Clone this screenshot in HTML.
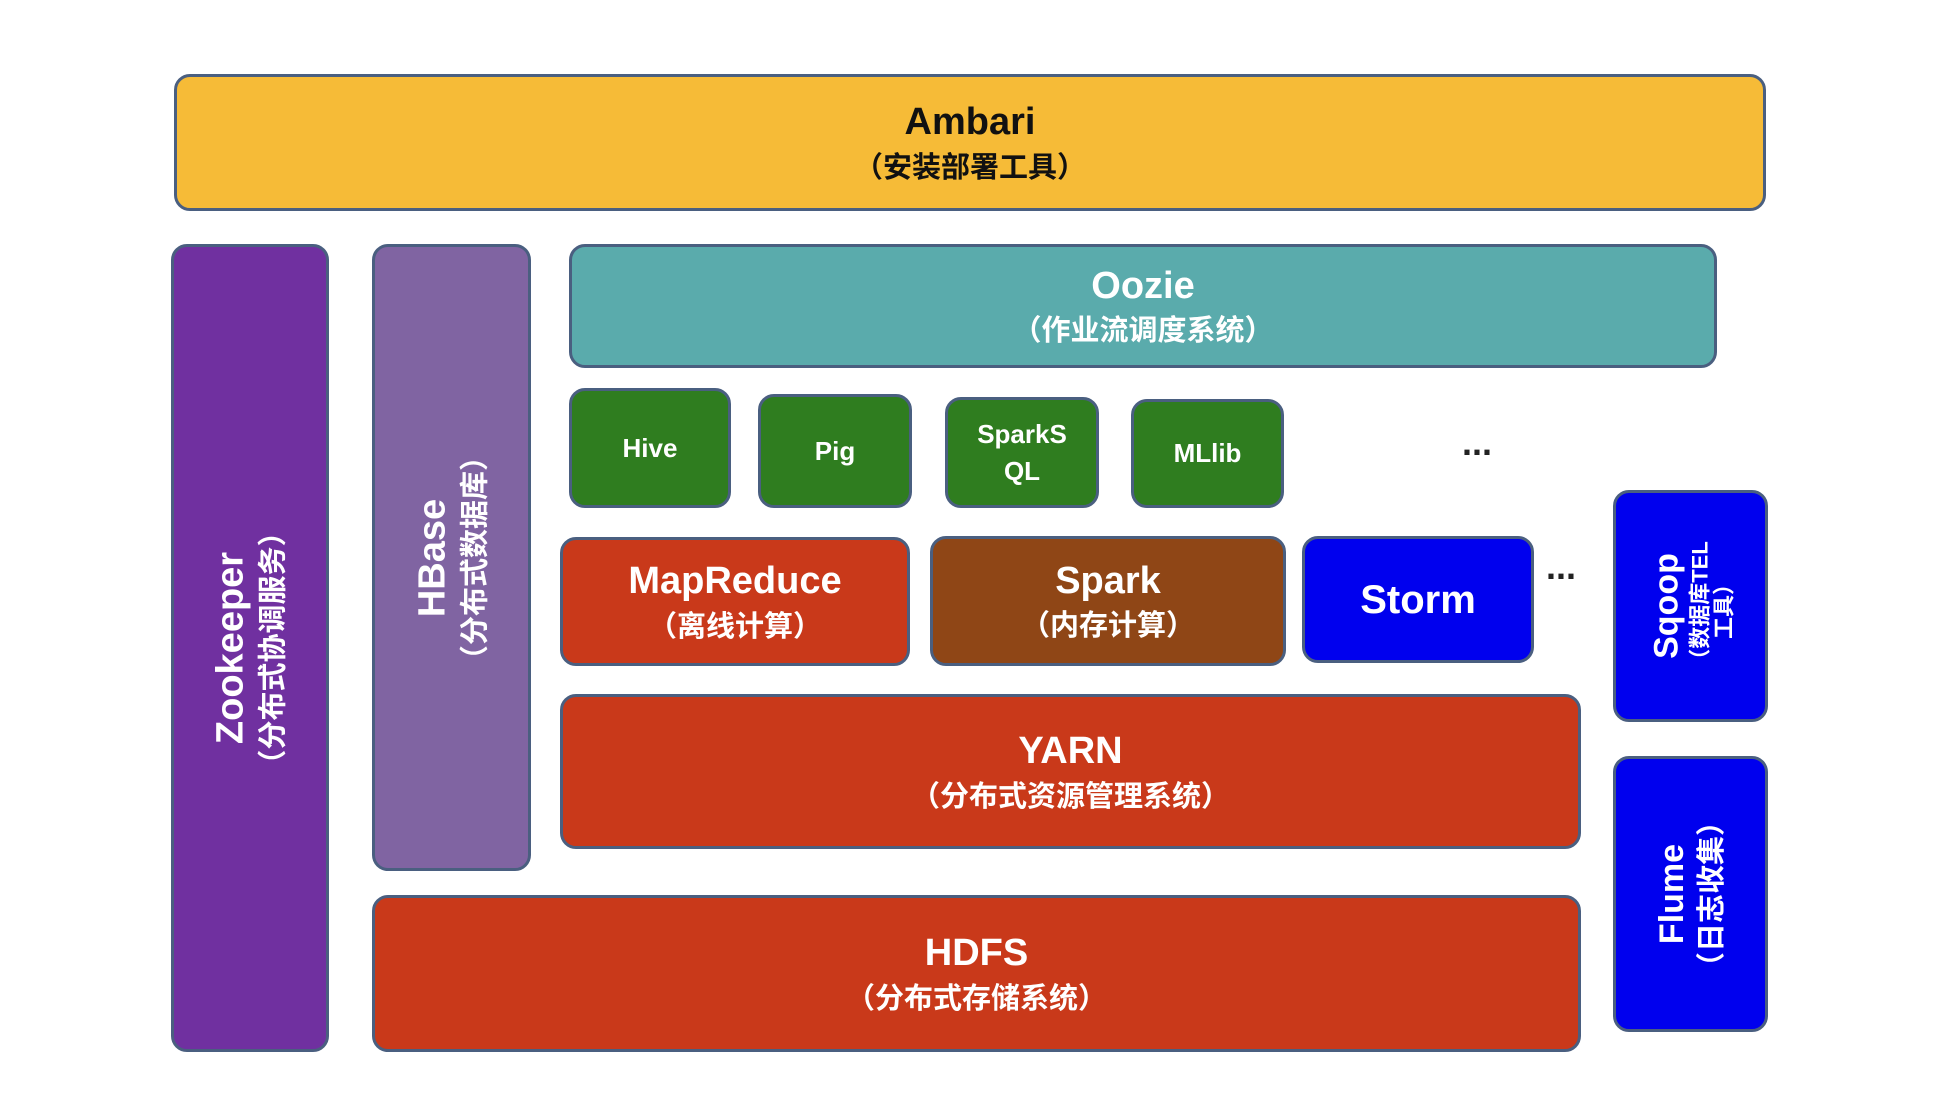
<!DOCTYPE html>
<html><head><meta charset="utf-8"><style>
body{margin:0;width:1936px;height:1115px;background:#fff;position:relative;overflow:hidden;font-family:"Liberation Sans","Noto Sans CJK SC",sans-serif;}
.b{position:absolute;box-sizing:border-box;border:3px solid #4a5f80;border-radius:16px;display:flex;flex-direction:column;align-items:center;justify-content:center;color:#fff;font-weight:bold;text-align:center;line-height:1.35;}
.t{font-size:38px;}
.s{font-size:29px;}
.g{background:#2f7d1f;font-size:26px;line-height:1.4;}
.r{position:absolute;left:50%;top:50%;transform:translate(-50%,-50%) rotate(-90deg);white-space:nowrap;text-align:center;line-height:1.3;}
.dots{position:absolute;font-size:36px;font-weight:bold;color:#222;}
</style></head><body>
<div class="b" style="left:174px;top:74px;width:1592px;height:137px;background:#f6bb37;color:#111"><div class="t">Ambari</div><div class="s">（安装部署工具）</div></div>
<div class="b" style="left:171px;top:244px;width:158px;height:808px;background:#7030a0"><div class="r"><div class="t">Zookeeper</div><div class="s">（分布式协调服务）</div></div></div>
<div class="b" style="left:372px;top:244px;width:159px;height:627px;background:#8064a2"><div class="r"><div class="t">HBase</div><div class="s">（分布式数据库）</div></div></div>
<div class="b" style="left:569px;top:244px;width:1148px;height:124px;background:#5aabac"><div class="t">Oozie</div><div class="s">（作业流调度系统）</div></div>
<div class="b g" style="left:569px;top:388px;width:162px;height:120px">Hive</div>
<div class="b g" style="left:758px;top:394px;width:154px;height:114px">Pig</div>
<div class="b g" style="left:945px;top:397px;width:154px;height:111px">SparkS<br>QL</div>
<div class="b g" style="left:1131px;top:399px;width:153px;height:109px">MLlib</div>
<div class="dots" style="left:1462px;top:422px">...</div>
<div class="b" style="left:560px;top:537px;width:350px;height:129px;background:#c9391a"><div class="t">MapReduce</div><div class="s">（离线计算）</div></div>
<div class="b" style="left:930px;top:536px;width:356px;height:130px;background:#8f4616"><div class="t">Spark</div><div class="s">（内存计算）</div></div>
<div class="b" style="left:1302px;top:536px;width:232px;height:127px;background:#0000ee"><div class="t" style="font-size:40px">Storm</div></div>
<div class="dots" style="left:1546px;top:546px">...</div>
<div class="b" style="left:1613px;top:490px;width:155px;height:232px;background:#0000ee"><div class="r"><div style="font-size:34px">Sqoop</div><div style="font-size:22px;line-height:1.1">（数据库TEL<br>工具）</div></div></div>
<div class="b" style="left:560px;top:694px;width:1021px;height:155px;background:#c9391a"><div class="t">YARN</div><div class="s">（分布式资源管理系统）</div></div>
<div class="b" style="left:1613px;top:756px;width:155px;height:276px;background:#0000ee"><div class="r"><div style="font-size:34px">Flume</div><div class="s">（日志收集）</div></div></div>
<div class="b" style="left:372px;top:895px;width:1209px;height:157px;background:#c9391a"><div class="t">HDFS</div><div class="s">（分布式存储系统）</div></div>
</body></html>
